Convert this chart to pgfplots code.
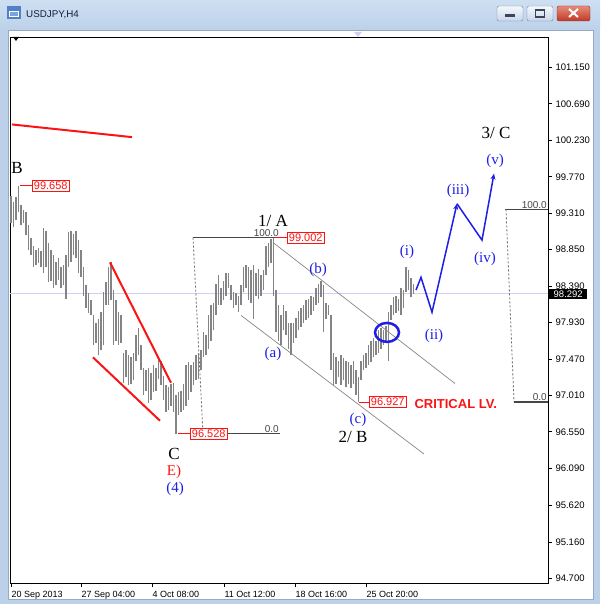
\documentclass[border=0pt]{standalone}
\usepackage{fontspec}
\setmainfont{Liberation Serif}
\newfontfamily\tahoma{Liberation Sans}
\usepackage{pgfplots}
\pgfplotsset{compat=1.18}
\usepackage{pgfplotstable}
\usetikzlibrary{arrows.meta}

\definecolor{frame}{RGB}{188,209,233}
\definecolor{frametop}{RGB}{206,223,242}
\definecolor{barcol}{RGB}{132,132,132}
\definecolor{ewblue}{RGB}{30,30,230}
\definecolor{fibcol}{RGB}{70,70,70}
\definecolor{chancol}{RGB}{135,135,135}
\definecolor{pricel}{RGB}{208,208,245}
\definecolor{mtred}{RGB}{250,20,20}

\newcommand\lbl{\fontsize{17}{17}\selectfont}
\newcommand\wlbl{\fontsize{15}{15}\selectfont}

% USDJPY H4 bars: position, low, high
\pgfplotstableread{
x lo hi
11 99.18 99.53
13.5 99.13 99.45
16 99.22 99.51
18.5 99.32 99.658
21 99.16 99.41
23.5 99.18 99.35
26 99.03 99.32
28.5 98.84 99.16
31 98.78 99.00
33.5 98.63 98.90
36 98.65 98.85
38.5 98.68 98.87
41 98.63 98.83
43.5 98.56 99.12
46 98.63 99.08
48.5 98.44 98.94
51 98.46 98.84
53.5 98.36 98.78
56 98.40 98.70
58.5 98.47 98.74
61 98.37 98.63
63.5 98.40 98.65
66 98.23 98.78
68.5 98.63 99.07
71 98.69 99.09
73.5 98.78 99.05
76 98.74 99.08
78.5 98.55 98.97
81 98.50 98.84
83.5 98.27 98.63
86 98.11 98.40
88.5 98.05 98.30
91 98.02 98.21
93.5 97.64 98.02
96 97.67 97.93
98.5 97.52 97.98
101 97.58 98.06
103.5 97.64 98.31
106 98.15 98.44
108.5 98.15 98.63
111 98.21 98.69
113.5 97.64 98.34
116 97.70 98.21
118.5 97.64 98.06
121 97.67 98.02
123.5 97.17 97.55
126 97.24 97.58
128.5 97.14 97.52
131 97.16 97.49
133.5 97.20 97.54
136 97.45 97.77
138.5 97.52 97.86
141 97.33 97.64
143.5 97.01 97.35
146 97.07 97.33
148.5 96.92 97.35
151 96.95 97.29
153.5 97.05 97.39
156 97.07 97.36
158.5 97.22 97.48
161 97.14 97.45
163.5 96.95 97.26
166 96.80 97.14
168.5 96.82 97.11
171 96.88 97.16
173.5 96.80 97.17
176 96.528 97.01
178.5 96.76 97.05
181 96.80 97.07
183.5 96.82 97.16
186 96.88 97.39
188.5 96.95 97.43
191 97.05 97.39
193.5 97.14 97.43
196 97.20 97.52
198.5 97.22 97.55
201 97.33 97.58
203.5 97.49 97.81
206 97.52 97.77
208.5 97.60 98.02
211 97.70 98.15
213.5 97.83 98.18
216 98.02 98.42
218.5 98.15 98.53
221 98.15 98.37
223.5 98.21 98.46
226 98.27 98.55
228.5 98.37 98.56
231 98.21 98.40
233.5 98.11 98.31
236 98.15 98.30
238.5 98.06 98.27
241 98.15 98.40
243.5 98.31 98.63
246 98.37 98.65
248.5 98.21 98.63
251 98.18 98.59
253.5 97.98 98.65
256 98.27 98.55
258.5 98.23 98.61
261 98.27 98.53
263.5 98.34 98.59
266 98.53 98.90
268.5 98.63 98.94
271 98.68 98.99
273.5 98.27 99.002
276 97.81 98.34
278.5 97.70 98.15
281 97.64 98.02
283.5 97.83 98.15
286 97.77 98.08
288.5 97.60 97.93
291 97.52 97.92
293.5 97.67 97.92
296 97.74 97.99
298.5 97.83 98.08
301 97.87 98.11
303.5 97.92 98.15
306 97.96 98.21
308.5 97.99 98.23
311 98.02 98.27
313.5 98.08 98.25
316 98.15 98.36
318.5 98.18 98.42
321 98.25 98.45
323.5 97.81 98.40
326 97.98 98.18
328.5 98.02 98.15
331 97.33 98.02
333.5 97.14 97.55
336 97.16 97.49
338.5 97.24 97.45
341 97.14 97.52
343.5 97.20 97.48
346 97.11 97.45
348.5 97.16 97.43
351 97.10 97.39
353.5 97.16 97.45
356 97.01 97.33
358.5 96.927 97.24
361 97.20 97.45
363.5 97.33 97.52
366 97.36 97.54
368.5 97.39 97.64
371 97.43 97.70
373.5 97.49 97.73
376 97.52 97.70
378.5 97.55 97.83
381 97.60 97.86
383.5 97.64 97.83
386 97.68 97.89
388.5 97.45 98.06
391 97.96 98.15
393.5 98.02 98.25
396 98.05 98.27
398.5 98.08 98.23
401 98.02 98.36
403.5 98.11 98.34
406 98.31 98.63
408.5 98.34 98.59
411 98.25 98.49
413.5 98.29 98.42
}\bars

\begin{document}
\begin{tikzpicture}[x=1pt,y=1pt]
\path[use as bounding box] (0,0) rectangle (600,604);
% window frame
\fill[frame] (0,0) rectangle (600,604);
\shade[top color=frametop, bottom color=frame] (0,574) rectangle (600,604);
\fill[white] (8,5) rectangle (593,574);
\draw[color={rgb,255:red,150;green,170;blue,195}, line width=0.6pt] (8,5) rectangle (593,574);
% title bar
\fill[color={rgb,255:red,80;green,130;blue,195}] (7,585) rectangle (21,598);
\fill[white] (9,587) rectangle (19,593);
\fill[color={rgb,255:red,120;green,165;blue,220}] (10,588) rectangle (18,592);
\node[anchor=west, inner sep=0pt, font=\tahoma\fontsize{9.8}{10}\selectfont,
  text={rgb,255:red,20;green,30;blue,60}] at (26,589) {USDJPY,H4};
\draw[rounded corners=2pt, draw={rgb,255:red,110;green,130;blue,160},
  top color={rgb,255:red,245;green,248;blue,252}, bottom color={rgb,255:red,200;green,214;blue,234}]
  (497,583) rectangle (523,598);
\fill[color={rgb,255:red,60;green,70;blue,90}] (505,587) rectangle (515,589.5);
\draw[rounded corners=2pt, draw={rgb,255:red,110;green,130;blue,160},
  top color={rgb,255:red,245;green,248;blue,252}, bottom color={rgb,255:red,200;green,214;blue,234}]
  (527,583) rectangle (553,598);
\draw[color={rgb,255:red,60;green,70;blue,90}, line width=1.2pt] (535.5,587) rectangle (544.5,594);
\draw[rounded corners=2pt, draw={rgb,255:red,130;green,50;blue,40},
  top color={rgb,255:red,230;green,140;blue,120}, bottom color={rgb,255:red,195;green,55;blue,40}]
  (557,583) rectangle (590,598);
\draw[white, line width=2pt] (569,587)--(578,595) (569,595)--(578,587);
% chart markers
\fill[black] (13,567) -- (19,567) -- (16,563) -- cycle;
\fill[pricel] (354,572) -- (362,572) -- (358,567) -- cycle;

\begin{axis}[
  at={(10,26)}, anchor=south west,
  width=538pt, height=546pt, scale only axis,
  xmin=10, xmax=548, ymin=94.637, ymax=101.529,
  clip=false,
  axis line style={black, line width=0.8pt},
  tick align=outside, major tick length=4pt,
  every tick/.style={black, line width=0.8pt},
  xtick pos=left, ytick pos=right, yticklabel pos=right,
  xtick={11,81,152,224,295,366},
  xticklabels={20 Sep 2013, 27 Sep 04:00, 4 Oct 08:00, 11 Oct 12:00, 18 Oct 16:00, 25 Oct 20:00},
  xticklabel style={anchor=north west, xshift=-3pt, font=\tahoma\fontsize{9}{10}\selectfont},
  ytick={94.70,95.16,95.62,96.09,96.55,97.01,97.47,97.93,98.39,98.85,99.31,99.77,100.23,100.69,101.15},
  yticklabel style={anchor=west, font=\tahoma\fontsize{9.5}{10}\selectfont,
    /pgf/number format/.cd, fixed, fixed zerofill, precision=3, assume math mode=true},
]
% current price line
\addplot[pricel, line width=0.7pt, forget plot] coordinates {(10,98.292) (548,98.292)};

% bars
\addplot[draw=none, no markers, forget plot,
  error bars/.cd, y dir=plus, y explicit, error mark=none,
  error bar style={draw=barcol, line width=1.5pt}]
  table[x=x, y=lo, y error plus expr=\thisrow{hi}-\thisrow{lo}] {\bars};

% red trend lines
\addplot[mtred, line width=2pt] coordinates {(12,100.43) (132,100.27)};
\addplot[mtred, line width=2pt] coordinates {(110,98.69) (171,97.17)};
\addplot[mtred, line width=2pt] coordinates {(93,97.49) (160,96.69)};

% channel
\addplot[chancol, line width=0.7pt] coordinates {(273,98.94) (455,97.16)};
\addplot[chancol, line width=0.7pt] coordinates {(241,98.02) (424,96.27)};

% fibo left
\addplot[fibcol, line width=1.3pt] coordinates {(193,99.002) (280,99.002)};
\addplot[fibcol!80, line width=0.8pt, dash pattern=on 2pt off 2pt] coordinates {(193,99.002) (203,96.528)};
\addplot[fibcol, line width=1.3pt] coordinates {(203,96.528) (280,96.528)};
% fibo right
\addplot[fibcol, line width=1.3pt] coordinates {(505,99.358) (548,99.358)};
\addplot[fibcol!80, line width=0.8pt, dash pattern=on 2pt off 2pt] coordinates {(506,99.358) (514,96.927)};
\addplot[fibcol, line width=1.3pt] coordinates {(514,96.927) (548,96.927)};

% price label connectors
\addplot[mtred, line width=0.8pt] coordinates {(20,99.658) (32,99.658)};
\addplot[mtred, line width=0.8pt] coordinates {(275,99.002) (287,99.002)};
\addplot[mtred, line width=0.8pt] coordinates {(178,96.528) (190,96.528)};
\addplot[mtred, line width=0.8pt] coordinates {(359,96.927) (369,96.927)};

% projected wave path
\addplot[ewblue, line width=1.5pt, -{Stealth[length=6pt,width=5pt]}]
  coordinates {(416,98.34) (421,98.50) (432,98.06) (457,99.43)};
\addplot[ewblue, line width=1.5pt, -{Stealth[length=6pt,width=5pt]}]
  coordinates {(457,99.43) (482,98.97) (494,99.81)};

\draw[ewblue, line width=2.5pt] (axis cs:387,97.805) ellipse [x radius=12pt, y radius=9.5pt];

% fibo labels
\node[anchor=south east, inner sep=1pt, font=\tahoma\fontsize{10}{10}\selectfont, text=fibcol] at (axis cs:280,99.002) {100.0};
\node[anchor=south east, inner sep=1pt, font=\tahoma\fontsize{10}{10}\selectfont, text=fibcol] at (axis cs:280,96.528) {0.0};
\node[anchor=south east, inner sep=1pt, font=\tahoma\fontsize{10}{10}\selectfont, text=fibcol] at (axis cs:548,99.358) {100.0};
\node[anchor=south east, inner sep=1pt, font=\tahoma\fontsize{10}{10}\selectfont, text=fibcol] at (axis cs:548,96.927) {0.0};

% price boxes
\tikzset{rbox/.style={draw=mtred, fill=white, text=mtred, anchor=west, line width=0.8pt,
  font=\tahoma\fontsize{11}{11}\selectfont, inner xsep=1.5pt, inner ysep=1.5pt}}
\node[rbox] at (axis cs:32,99.658) {99.658};
\node[rbox] at (axis cs:287,99.002) {99.002};
\node[rbox] at (axis cs:190,96.528) {96.528};
\node[rbox] at (axis cs:369,96.927) {96.927};

\node[text=mtred, anchor=west, font=\tahoma\bfseries\fontsize{13}{13}\selectfont] at (axis cs:411,96.90) {CRITICAL LV.};

% wave labels
\node[font=\lbl] at (axis cs:17,99.875) {B};
\node[font=\lbl] at (axis cs:273,99.206) {1/ A};
\node[font=\lbl] at (axis cs:353,96.49) {2/ B};
\node[font=\lbl] at (axis cs:496,100.317) {3/ C};
\node[font=\lbl] at (axis cs:174,96.265) {C};
\node[font=\wlbl, text=mtred] at (axis cs:174,96.05) {E)};
\node[font=\wlbl, text=ewblue] at (axis cs:175,95.824) {(4)};
\node[font=\wlbl, text=ewblue] at (axis cs:273,97.54) {(a)};
\node[font=\wlbl, text=ewblue] at (axis cs:318,98.588) {(b)};
\node[font=\wlbl, text=ewblue] at (axis cs:358,96.707) {(c)};
\node[font=\wlbl, text=ewblue] at (axis cs:407,98.827) {(i)};
\node[font=\wlbl, text=ewblue] at (axis cs:434,97.767) {(ii)};
\node[font=\wlbl, text=ewblue] at (axis cs:458,99.597) {(iii)};
\node[font=\wlbl, text=ewblue] at (axis cs:485,98.739) {(iv)};
\node[font=\wlbl, text=ewblue] at (axis cs:495,99.976) {(v)};

\coordinate (cp) at (axis cs:548,98.292);
\end{axis}
\node[fill=black, text=white, anchor=west, inner xsep=4.5pt, inner ysep=1.5pt,
  font=\tahoma\fontsize{9.5}{10}\selectfont] at ([xshift=1pt]cp) {98.292};
\end{tikzpicture}
\end{document}
